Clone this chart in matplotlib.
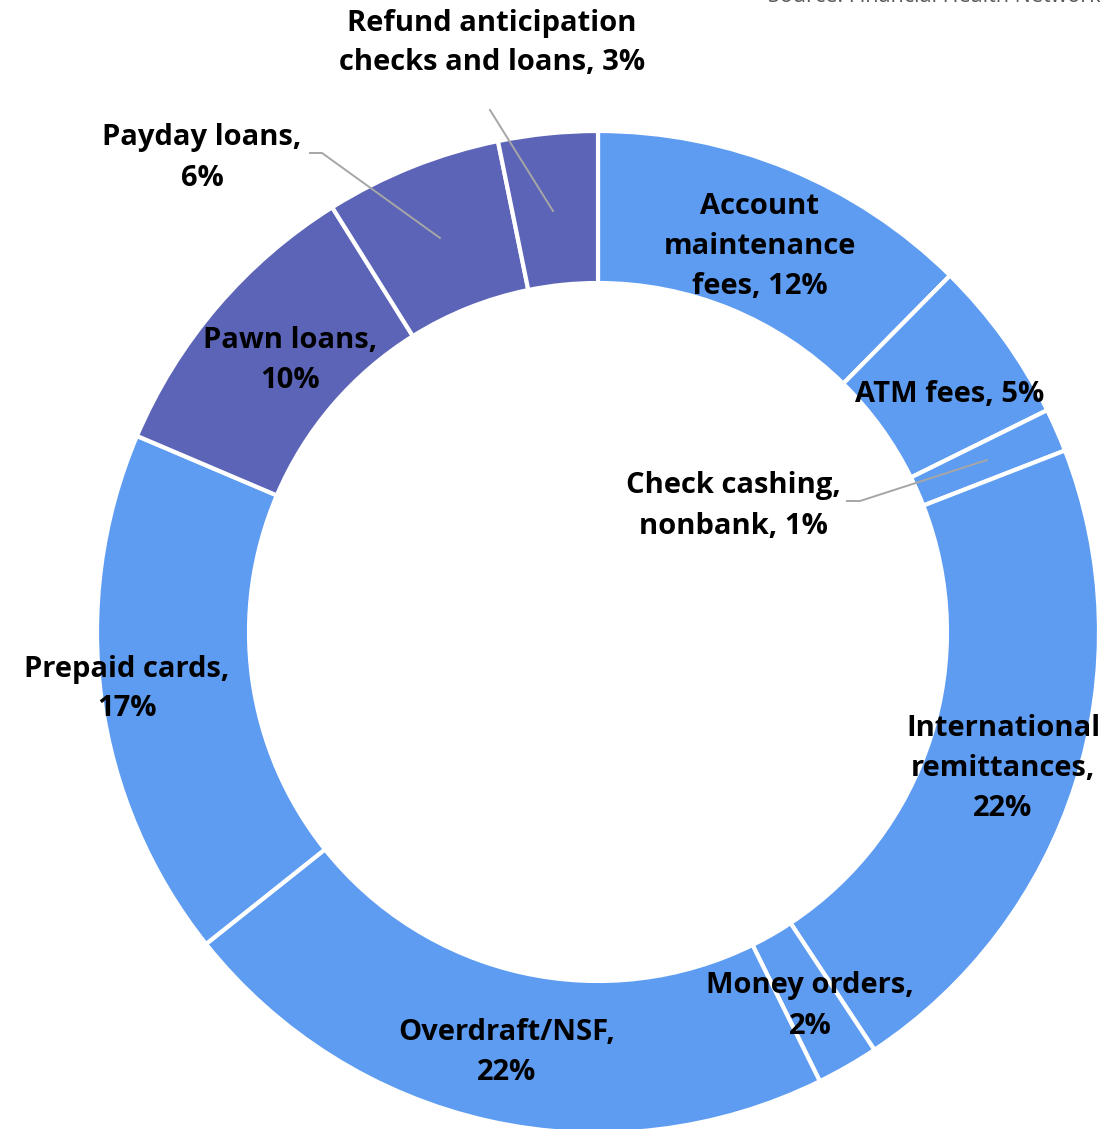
import matplotlib
matplotlib.use("Agg")
import matplotlib.pyplot as plt

W, H = 1118, 1129

# shares, clockwise from 12 o'clock
categories = ["Account maintenance fees", "ATM fees", "Check cashing, nonbank",
              "International remittances", "Money orders", "Overdraft/NSF",
              "Prepaid cards", "Pawn loans", "Payday loans",
              "Refund anticipation checks and loans"]
shares = [12.4, 5.3, 1.4, 21.6, 2.0, 21.6, 17.1, 9.7, 5.7, 3.2]
labels = ["Account\nmaintenance\nfees, 12%", "ATM fees, 5%", "Check cashing,\nnonbank, 1%",
          "International\nremittances,\n22%", "Money orders,\n2%", "Overdraft/NSF,\n22%",
          "Prepaid cards,\n17%", "Pawn loans,\n10%", "Payday loans,\n6%",
          "Refund anticipation\nchecks and loans, 3%"]
is_credit = [False, False, False, False, False, False, False, True, True, True]

BLUE = "#5E9CF2"
PURPLE = "#5C64B7"
colors = [PURPLE if c else BLUE for c in is_credit]

# label placement in pixels (x, y of text centre)
label_pos = [(760, 246), (950, 394), (733, 506), (1003, 768), (810, 1006),
             (507, 1052), (127, 689), (290, 361), (202, 158), (492, 43)]
# leader lines for the small slices
leaders = {2: [(847, 501), (860, 501), (987, 460)],
           8: [(310, 153), (322, 153), (440, 238)],
           9: [(490, 110), (553, 211)]}

plt.rcParams['font.family'] = ['Open Sans', 'DejaVu Sans']

fig = plt.figure(figsize=(W / 100, H / 100), dpi=100)
ax = fig.add_axes([0, 0, 1, 1])

cx, cy, r = 598, 632, 501
ax.pie(shares, colors=colors, radius=r, center=(cx, cy),
       startangle=-90, counterclock=True,   # y axis is flipped below
       wedgeprops=dict(width=152, edgecolor="white", linewidth=3))
ax.set_xlim(0, W)
ax.set_ylim(H, 0)
ax.set_aspect("equal")
ax.axis("off")

for i, txt in enumerate(labels):
    x, y = label_pos[i]
    ax.text(x, y, txt, ha="center", va="center", fontsize=21,
            fontweight="bold", color="black", linespacing=1.5)

for pts in leaders.values():
    xs = [p[0] for p in pts]
    ys = [p[1] for p in pts]
    ax.plot(xs, ys, color="#A6A6A6", lw=1.4)

ax.text(1100, -4, "Source: Financial Health Network", ha="right", va="center",
        fontsize=15.5, color="#595959")

fig.savefig("out.png", dpi=100)
